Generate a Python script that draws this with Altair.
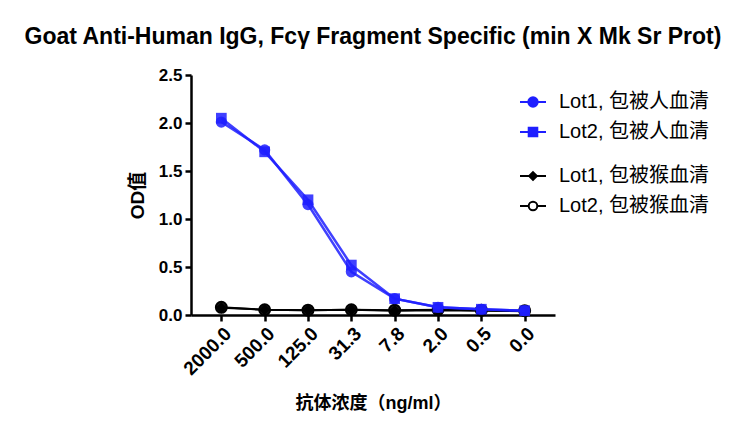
import altair as alt
import pandas as pd

concentrations = ["2000.0", "500.0", "125.0", "31.3", "7.8", "2.0", "0.5", "0.0"]
lot1_human = [2.01, 1.72, 1.15, 0.45, 0.17, 0.08, 0.06, 0.045]
lot2_human = [2.05, 1.70, 1.20, 0.52, 0.17, 0.08, 0.06, 0.045]
lot1_monkey = [0.075, 0.055, 0.05, 0.055, 0.045, 0.05, 0.045, 0.04]
lot2_monkey = [0.08, 0.055, 0.05, 0.055, 0.05, 0.055, 0.05, 0.045]

human_names = ["Lot1, 包被人血清", "Lot2, 包被人血清"]
monkey_names = ["Lot1, 包被猴血清", "Lot2, 包被猴血清"]

rows = []
for name, vals in zip(human_names + monkey_names, [lot1_human, lot2_human, lot1_monkey, lot2_monkey]):
    for c, v in zip(concentrations, vals):
        rows.append({"conc": c, "od": v, "series": name})
df = pd.DataFrame(rows)

FONT = "Liberation Sans, Arial, Noto Sans CJK SC"
BLUE = "#1f1fff"

x_enc = alt.X("conc:N", sort=concentrations,
              scale=alt.Scale(type="point", padding=0.7),
              axis=alt.Axis(title="抗体浓度（ng/ml）", labelAngle=-45))
y_enc = alt.Y("od:Q", scale=alt.Scale(domain=[0, 2.5], nice=False),
              axis=alt.Axis(title="OD值", values=[0, 0.5, 1.0, 1.5, 2.0, 2.5], format=".1f"))

base = alt.Chart(df).encode(x=x_enc, y=y_enc)

# monkey series (black)
mk = base.transform_filter(alt.FieldOneOfPredicate(field="series", oneOf=monkey_names))
mk_line = mk.mark_line(strokeWidth=2).encode(
    detail="series:N",
    stroke=alt.Stroke("series:N", scale=alt.Scale(domain=monkey_names, range=["black", "black"]), legend=None))
mk_pts = mk.mark_point(filled=False, strokeWidth=2, opacity=1).encode(
    order=alt.Order("series:N", sort="descending"),
    shape=alt.Shape("series:N", scale=alt.Scale(domain=monkey_names, range=["diamond", "circle"]), legend=None),
    size=alt.Size("series:N", scale=alt.Scale(domain=monkey_names, range=[70, 120]), legend=None),
    fill=alt.Fill("series:N", scale=alt.Scale(domain=monkey_names, range=["black", "#1a1a1a"]), legend=None),
    stroke=alt.Stroke("series:N", scale=alt.Scale(domain=monkey_names, range=["black", "black"]), legend=None))

# human series (blue)
hu = base.transform_filter(alt.FieldOneOfPredicate(field="series", oneOf=human_names))
hu_line = hu.mark_line(strokeWidth=2.5, opacity=0.85).encode(
    detail="series:N",
    stroke=alt.Stroke("series:N", scale=alt.Scale(domain=human_names, range=[BLUE, BLUE]), legend=None))
hu_pts = hu.mark_point(filled=True, opacity=0.85).encode(
    shape=alt.Shape("series:N", scale=alt.Scale(domain=human_names, range=["circle", "square"]), legend=None),
    size=alt.Size("series:N", scale=alt.Scale(domain=human_names, range=[125, 115]), legend=None),
    fill=alt.Fill("series:N", scale=alt.Scale(domain=human_names, range=[BLUE, BLUE]), legend=None))

# legend-only layers (no rows drawn; scales have explicit domains)
line_circle = "M-1,0H1M0.36,0A0.36,0.36,0,1,1,-0.36,0A0.36,0.36,0,1,1,0.36,0Z"
line_square = "M-1,0H1M-0.33,-0.33H0.33V0.33H-0.33Z"
line_diamond = "M-1,0H1M0,-0.3L0.3,0L0,0.3L-0.3,0Z"
line_ocircle = "M-1,0H-0.36M0.36,0H1M0.33,0A0.33,0.33,0,1,1,-0.33,0A0.33,0.33,0,1,1,0.33,0Z"

leg_common = dict(orient="none", title=None, padding=0, symbolSize=676, symbolStrokeWidth=2,
                  symbolOpacity=1,
                  labelFont=FONT, labelFontSize=20, labelColor="black", labelOffset=12,
                  rowPadding=6, labelLimit=300)

hu_leg = base.transform_filter("false").mark_point(filled=True, opacity=0.85).encode(
    shape=alt.Shape("series:N", scale=alt.Scale(domain=human_names, range=[line_circle, line_square]),
                    legend=alt.Legend(legendX=328, legendY=13, **leg_common)),
    fill=alt.Fill("series:N", scale=alt.Scale(domain=human_names, range=[BLUE, BLUE]),
                  legend=alt.Legend(legendX=328, legendY=13, **leg_common)),
    stroke=alt.Stroke("series:N", scale=alt.Scale(domain=human_names, range=[BLUE, BLUE]),
                      legend=alt.Legend(legendX=328, legendY=13, **leg_common)))

mk_leg = base.transform_filter("false").mark_point(filled=False, opacity=1).encode(
    shape=alt.Shape("series:N", scale=alt.Scale(domain=monkey_names, range=[line_diamond, line_ocircle]),
                    legend=alt.Legend(legendX=328, legendY=87, **leg_common)),
    fill=alt.Fill("series:N", scale=alt.Scale(domain=monkey_names, range=["black", "white"]),
                  legend=alt.Legend(legendX=328, legendY=87, **leg_common)),
    stroke=alt.Stroke("series:N", scale=alt.Scale(domain=monkey_names, range=["black", "black"]),
                      legend=alt.Legend(legendX=328, legendY=87, **leg_common)))

chart = alt.layer(mk_line, mk_pts, hu_line, hu_pts, hu_leg, mk_leg).resolve_scale(
    shape="independent", fill="independent", stroke="independent", size="independent"
).properties(
    width=364, height=240,
    autosize=alt.AutoSizeParams(type="none"),
    padding={"left": 183, "top": 67, "right": 189, "bottom": 104},
    title=alt.TitleParams("Goat Anti-Human IgG, Fcγ Fragment Specific (min X Mk Sr Prot)",
                          font=FONT, fontSize=23, fontWeight="bold", color="black",
                          anchor="middle", offset=17),
).configure_view(stroke=None).configure_axis(
    domainColor="black", domainWidth=2.5, tickColor="black", tickWidth=2.5, tickSize=6,
    grid=False, labelFont=FONT, labelFontSize=17, labelFontWeight="bold", labelColor="black",
    titleFont=FONT, titleFontSize=19, titleFontWeight="bold", titleColor="black", labelPadding=3,
).configure_axisX(titlePadding=16, titleFontSize=18, labelFontSize=19).configure_axisY(titlePadding=11)

chart.save("out.html", embed_options={"renderer": "svg", "actions": False})
